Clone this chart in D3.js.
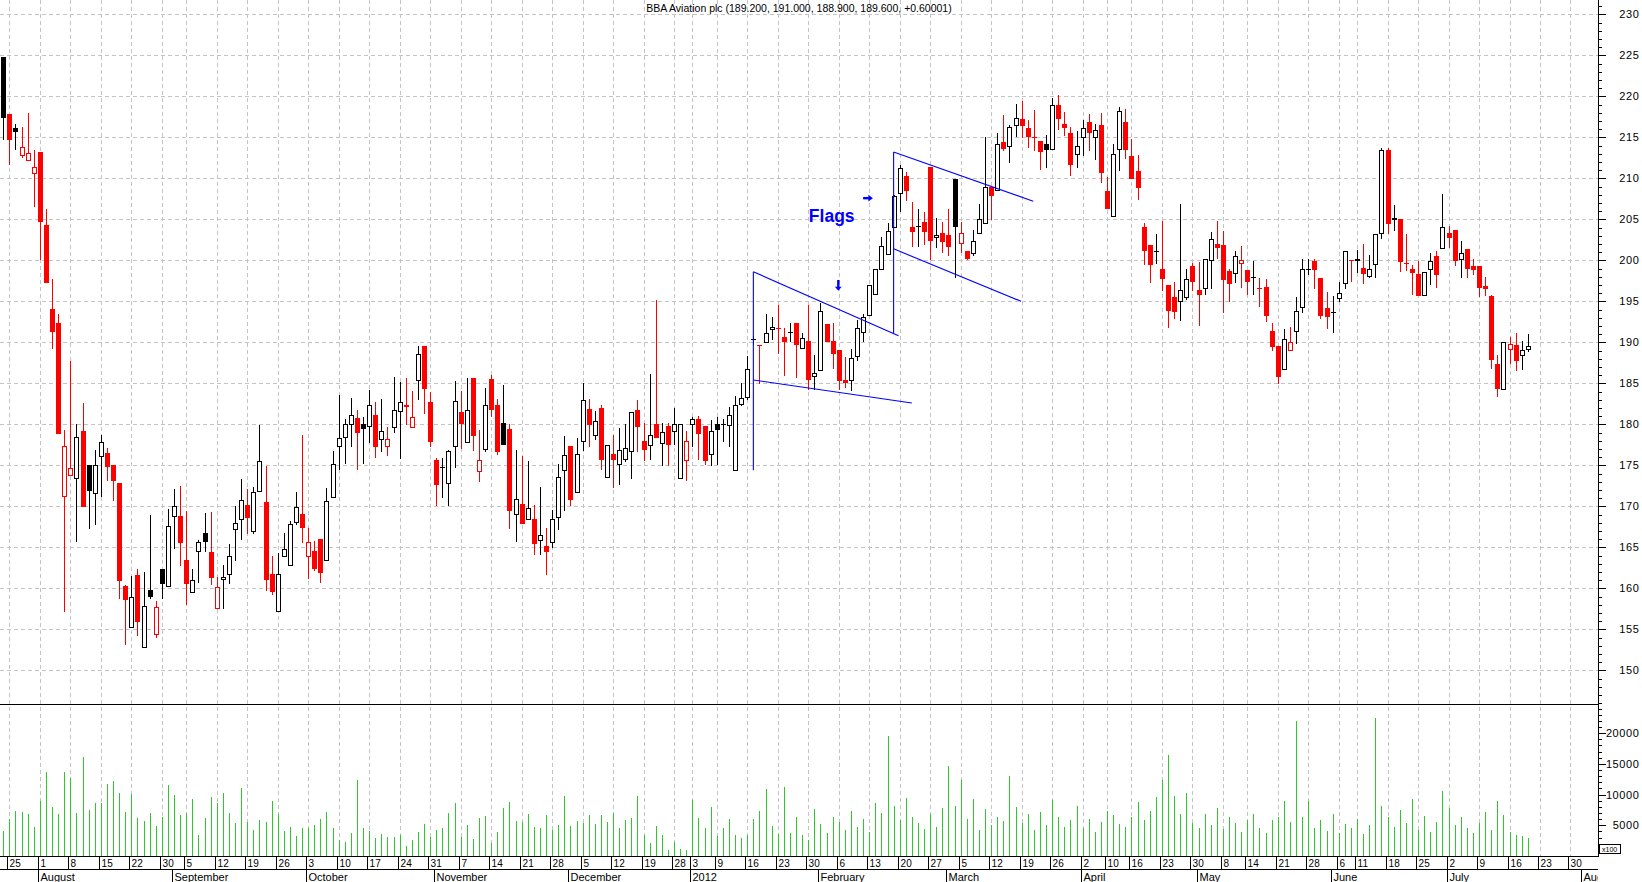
<!DOCTYPE html>
<html><head><meta charset="utf-8">
<script src="https://cdn.jsdelivr.net/npm/d3@7"></script>
<style>
html,body{margin:0;padding:0;background:#fff;overflow:hidden;}
svg{display:block;font-family:"Liberation Sans",Arial,sans-serif;}
</style></head><body>
<svg id="c" width="1642" height="882"></svg>
<script>
const title = "BBA Aviation plc (189.200, 191.000, 188.900, 189.600, +0.60001)";

const opens = [
224.8,217.8,216.1,212.9,212.2,210.6,213.2,204.3,194.0,192.3,
171.3,173.8,173.5,179.2,175.0,171.6,176.1,176.5,175.0,172.9,
160.3,155.3,161.6,152.8,159.8,154.4,162.3,160.3,168.8,168.8,
163.4,159.6,164.6,166.8,164.4,157.6,161.1,161.8,167.2,168.5,
170.1,167.0,171.9,170.5,161.7,157.2,163.9,162.9,168.1,169.1,
164.0,164.5,166.0,163.4,171.1,177.3,178.4,180.0,180.8,180.0,
179.8,181.1,178.2,177.3,179.7,181.6,182.4,179.7,185.4,189.5,
182.7,175.6,174.8,172.9,177.3,181.5,177.8,185.6,174.3,177.0,
185.5,182.4,180.1,179.4,169.0,170.3,168.4,168.5,165.9,165.2,
165.6,168.7,174.4,177.3,171.7,178.0,181.9,178.7,182.0,173.6,
176.4,175.2,175.8,176.8,181.7,178.0,177.5,180.0,177.7,179.8,
179.2,173.4,175.7,180.0,180.6,179.8,176.4,180.0,180.0,179.9,
174.4,182.5,183.3,190.4,189.7,190.0,191.6,191.7,190.7,191.2,
192.3,189.3,190.2,185.9,186.6,192.2,190.2,189.0,185.4,185.4,
188.3,191.2,193.3,195.9,199.0,200.8,204.1,208.2,210.3,204.0,
204.2,204.7,211.4,202.8,203.3,203.1,209.9,202.1,201.1,200.9,
203.3,204.6,208.9,208.6,214.4,213.9,216.5,217.2,216.1,215.0,
214.5,214.2,213.6,218.9,216.6,215.5,213.0,215.0,216.9,215.0,
216.5,208.4,205.4,213.6,216.9,212.7,210.9,204.1,201.9,201.1,
199.0,197.0,195.5,195.0,195.5,199.3,196.4,196.6,200.0,202.0,
201.9,198.7,198.5,199.7,198.8,197.8,196.6,196.8,191.4,189.5,
186.8,189.1,191.4,194.3,199.0,199.9,197.9,194.2,193.7,195.4,
197.2,200.0,200.2,199.1,198.1,199.5,203.3,213.5,205.2,205.0,
199.7,198.9,198.3,195.8,198.9,200.5,201.5,203.3,203.7,200.2,
201.4,199.3,199.3,196.9,195.6,187.3,184.3,189.2,189.7,188.4,
189.2];

const highs = [
224.8,217.8,216.6,216.3,218.0,213.5,213.2,206.3,197.7,193.5,
179.3,187.7,180.0,182.6,175.0,176.9,178.7,177.1,175.0,172.9,
160.4,161.5,162.4,162.0,168.9,158.4,162.3,169.7,172.1,172.5,
169.4,162.4,165.9,169.2,169.3,161.4,162.9,165.4,170.0,173.3,
172.1,172.4,179.9,174.9,163.9,164.3,166.8,168.2,171.8,178.7,
167.4,165.8,166.0,172.2,176.7,183.6,180.7,183.2,181.7,180.9,
184.2,182.7,183.1,179.7,185.8,185.1,185.6,184.0,189.6,189.5,
183.9,175.9,175.9,176.9,185.3,184.0,185.6,185.6,179.3,184.4,
186.0,183.1,184.8,180.0,176.9,176.1,175.5,170.2,172.4,167.4,
169.5,175.1,178.6,177.3,178.3,185.0,183.1,181.6,182.4,177.5,
178.7,179.6,180.0,181.5,183.0,180.2,186.1,195.2,180.2,180.2,
182.0,180.0,179.2,180.9,181.0,179.8,180.5,180.9,180.7,182.1,
183.4,185.0,188.3,190.8,189.7,193.4,193.1,194.5,191.7,192.4,
192.4,191.1,194.5,188.4,194.8,192.2,192.4,189.0,188.2,189.2,
192.7,193.5,197.0,199.0,202.9,204.5,208.0,211.6,210.8,207.1,
206.3,205.9,211.4,205.2,204.7,206.3,209.9,204.7,201.1,203.7,
206.9,215.0,208.9,215.5,217.7,216.5,219.1,219.4,217.1,218.3,
214.5,215.3,219.8,220.2,218.1,216.3,215.8,217.1,217.8,216.6,
218.0,210.2,214.2,218.7,218.5,214.8,212.8,204.6,201.9,203.2,
204.8,197.0,197.3,206.9,199.0,199.7,199.8,200.1,203.4,204.8,
203.6,198.9,201.1,201.7,198.8,199.9,197.8,197.7,192.4,189.5,
191.6,191.9,195.5,200.2,200.2,200.2,197.9,196.1,195.6,197.4,
201.1,200.0,201.2,202.0,200.6,203.2,213.7,213.7,206.8,205.0,
203.2,199.4,199.9,198.6,200.9,201.1,208.1,204.2,203.7,202.3,
201.4,200.1,199.3,198.0,195.8,188.4,190.0,190.6,191.1,190.2,
191.0];

const lows = [
214.8,211.8,213.6,212.6,212.2,206.6,200.1,197.3,189.3,178.9,
157.2,173.8,165.8,170.0,167.4,167.8,171.3,173.2,170.8,158.8,
153.2,155.3,154.3,152.8,158.8,154.1,158.8,160.3,164.9,162.9,
158.1,159.6,160.8,164.5,160.5,157.6,157.6,160.6,163.4,166.0,
166.7,166.7,171.9,159.8,159.3,157.2,163.9,162.9,167.9,165.7,
161.2,162.2,160.8,163.4,171.1,174.5,175.3,177.3,174.5,175.3,
177.8,176.0,176.7,176.3,179.1,175.9,180.0,179.7,183.1,181.4,
177.3,170.1,171.1,170.2,174.8,177.1,177.8,176.9,173.1,176.7,
181.0,176.4,177.6,167.4,165.8,168.0,168.4,164.2,164.2,161.7,
165.0,167.2,169.5,170.1,171.7,176.9,177.3,178.2,174.5,173.6,
172.4,172.7,175.5,173.5,176.8,175.7,175.8,178.4,175.0,175.0,
177.6,173.4,173.2,177.4,175.8,175.1,175.0,175.2,178.0,177.3,
174.4,182.4,183.1,189.8,185.0,190.0,190.4,188.7,186.0,190.1,
185.8,189.3,184.3,184.3,186.6,190.1,186.9,184.3,184.5,184.2,
187.8,190.2,193.3,195.9,199.0,200.8,204.1,206.0,207.4,201.7,
201.8,202.0,200.1,201.6,201.0,200.6,198.0,201.0,200.2,200.6,
203.3,204.6,205.0,208.6,213.5,212.0,215.1,215.0,213.8,213.4,
211.1,211.4,213.6,216.0,215.3,210.4,211.4,212.8,213.4,212.4,
209.5,206.4,205.4,211.0,212.5,210.0,207.5,199.5,197.3,199.7,
196.4,191.9,193.0,192.7,195.3,196.4,192.1,195.9,196.6,200.3,
193.7,195.0,197.4,196.8,195.9,195.9,194.4,192.6,189.0,185.0,
186.8,189.1,189.9,193.7,198.3,196.6,193.0,191.8,191.2,195.0,
196.6,197.5,198.6,197.2,198.0,198.0,202.7,203.3,203.7,198.7,
198.8,195.9,195.8,195.8,197.1,196.8,201.5,201.6,199.4,198.0,
198.0,198.3,195.7,195.8,186.9,183.5,184.3,187.5,186.6,186.8,
188.9];

const closes = [
217.5,214.8,215.8,213.8,213.1,211.4,204.8,197.4,191.4,178.9,
177.4,174.7,178.4,170.0,172.0,175.0,177.8,174.9,173.2,161.0,
158.7,158.9,156.0,157.8,159.0,157.7,160.7,167.6,170.0,165.7,
160.6,161.0,165.7,165.8,161.4,160.1,161.4,164.0,168.0,170.8,
168.7,171.8,175.5,161.1,159.7,161.8,164.8,167.8,169.9,167.5,
165.6,162.5,162.0,170.6,175.2,178.3,180.0,181.1,179.1,179.6,
182.4,177.3,179.2,178.2,181.8,182.7,182.2,180.9,188.6,184.4,
178.0,172.7,174.8,176.7,182.9,180.1,181.7,178.7,175.6,182.4,
181.9,176.7,177.6,169.5,170.9,168.0,169.8,165.5,166.5,164.6,
168.4,173.6,176.3,170.9,176.4,183.0,180.0,180.4,175.8,177.5,
175.8,176.9,177.1,181.5,179.8,177.0,178.7,178.4,179.1,177.6,
180.0,180.0,178.0,180.7,178.9,175.6,179.2,179.4,180.0,181.1,
182.3,183.2,186.8,190.4,189.7,191.1,191.9,191.7,190.1,191.2,
189.8,190.5,185.5,186.3,193.8,190.1,188.7,185.4,185.1,188.1,
191.7,193.1,197.0,198.9,201.7,203.6,207.8,211.2,208.6,203.6,
204.2,203.6,202.5,203.1,202.3,201.7,204.2,203.3,200.3,202.4,
205.0,208.9,208.0,214.2,213.7,216.2,217.3,216.5,215.1,215.0,
213.3,213.6,218.9,217.4,216.3,211.7,213.9,216.1,215.7,215.9,
210.8,206.4,213.0,218.2,213.6,210.0,208.9,201.3,199.6,201.1,
197.9,193.9,193.8,196.4,197.7,197.5,195.9,200.1,202.6,201.6,
197.7,197.2,200.5,200.0,197.5,198.0,196.6,193.3,189.6,185.9,
190.4,190.0,193.8,198.9,199.0,198.9,193.3,193.2,193.7,196.0,
201.1,200.0,200.0,198.4,198.9,203.2,213.5,204.5,205.0,199.9,
199.7,198.6,195.8,198.6,199.9,198.3,204.0,202.9,200.0,200.9,
199.1,198.9,196.7,196.6,188.0,184.4,190.0,189.8,187.9,189.0,
189.6];

const volumes = [
4000,6070,7400,7100,6900,4660,8940,13650,7900,6780,
13650,12680,6940,16200,7430,8560,8560,11650,12140,10190,
7100,10030,6120,5640,6940,4820,6290,11490,9860,6610,
7050,9210,3360,6120,9540,8560,10190,6940,5310,11000,
5470,4170,5800,5470,8890,6780,4010,4660,3200,4500,
4500,4990,5960,7100,4500,2550,2220,3690,12300,4500,
4120,2870,3520,3040,3040,3360,1570,2550,3850,5150,
3040,4170,4500,6940,8560,3040,4990,2710,6120,6450,
2110,3850,7750,8730,5640,5470,6780,4660,4500,6610,
4170,4990,9700,4820,5640,5310,6610,5150,6610,5470,
7050,4500,5800,6120,9700,3360,2060,4820,3360,920,
2220,1080,920,9050,6120,4500,7910,3200,4500,5960,
3360,2870,3360,5960,7260,10840,4820,3520,11170,3690,
6290,3360,2550,7590,
5200,3800,6400,5600,4300,7400,4800,6100,3900,8600,
7000,19500,8200,5800,9500,6400,5300,4400,6900,4800,
7800,14600,8200,12300,6100,9300,4200,7600,5100,6300,
5700,13000,7900,5400,6800,4300,7200,5000,9100,6300,
4700,5800,8200,4600,6000,3900,5500,7400,6700,5200,
4800,6300,8800,5900,7300,9600,12400,16500,9800,6800,
10200,5400,4600,6800,5100,7800,4400,6300,5400,3900,
5900,6800,4500,3700,5800,6300,8900,5600,22000,6400,
8900,4600,5900,4000,6900,3800,5200,4500,6000,3600,
5100,22500,8200,6300,4800,7500,5300,9300,4200,6500,
3900,5600,10600,7800,5100,6400,4600,3800,5400,7100,
4200,9000,6600,3900,3400,3300,2900];

// weekly date ticks: [trading-day index, label]
const dayTicks = [[1,"25"],[6,"1"],[11,"8"],[16,"15"],[21,"22"],[26,"30"],[30,"5"],[35,"12"],[40,"19"],[45,"26"],
[50,"3"],[55,"10"],[60,"17"],[65,"24"],[70,"31"],[75,"7"],[80,"14"],[85,"21"],[90,"28"],[95,"5"],[100,"12"],
[105,"19"],[110,"28"],[113,"3"],[117,"9"],[122,"16"],[127,"23"],[132,"30"],[137,"6"],[142,"13"],[147,"20"],
[152,"27"],[157,"5"],[162,"12"],[167,"19"],[172,"26"],[177,"2"],[181,"10"],[185,"16"],[190,"23"],[195,"30"],
[200,"8"],[204,"14"],[209,"21"],[214,"28"],[219,"6"],[222,"11"],[227,"18"],[232,"25"],[237,"2"],[242,"9"],
[247,"16"],[252,"23"],[257,"30"]];
const monthTicks = [[6,"August"],[28,"September"],[50,"October"],[71,"November"],[93,"December"],[113,"2012"],
[134,"February"],[155,"March"],[177,"April"],[196,"May"],[218,"June"],[237,"July"],[259,"August"]];

const priceTicks = [150,155,160,165,170,175,180,185,190,195,200,205,210,215,220,225,230];
const volumeTicks = [5000,10000,15000,20000];

// flag annotations: [index1, price1, index2, price2]
const flagLines = [
  [123.0,198.6,123.0,174.4],[123.0,198.6,146.8,190.8],[123.0,185.4,149.0,182.6],
  [146.0,213.2,146.0,191.1],[146.0,213.2,168.9,207.2],[146.0,201.4,166.9,195.0]
];
const downArrow = [136.9,197.6,196.3];   // index, price top, price tip
const rightArrow = [207.6,141.0,142.6];  // price, index start, index tip
const flagLabel = ["Flags",132.1,204.7];

// ---------- layout ----------
const svg = d3.select("#c");
const PR = 1598, P_BOT = 704, V_BOT = 856, ROW = 869, H = 882;

const x = d3.scaleLinear().domain([0,250]).range([3.3,1527.8]);
const y = d3.scaleLinear().domain([150,230]).range([670.3,14.3]);
const yv = d3.scaleLinear().domain([0,20000]).range([V_BOT,733.2]);
const px = i => Math.round(x(i));

svg.append("defs").append("clipPath").attr("id","plot")
  .append("rect").attr("x",0).attr("y",0).attr("width",PR).attr("height",H);

// gridlines
const grid = svg.append("g").attr("stroke","#c4c4c4").attr("stroke-dasharray","4,3")
  .attr("shape-rendering","crispEdges");
grid.selectAll(".hg").data(priceTicks).join("line")
  .attr("x1",0).attr("x2",PR)
  .attr("y1",d=>Math.round(y(d))+0.5).attr("y2",d=>Math.round(y(d))+0.5);
grid.selectAll(".vg").data(dayTicks).join("line")
  .attr("x1",d=>px(d[0])+0.5).attr("x2",d=>px(d[0])+0.5)
  .attr("y1",0).attr("y2",V_BOT);

// panel frame lines
const frame = svg.append("g").attr("stroke","#000").attr("shape-rendering","crispEdges");
frame.append("line").attr("x1",0).attr("x2",PR).attr("y1",P_BOT+0.5).attr("y2",P_BOT+0.5);
frame.append("line").attr("x1",0).attr("x2",PR).attr("y1",V_BOT+0.5).attr("y2",V_BOT+0.5);
frame.append("line").attr("x1",0).attr("x2",PR).attr("y1",ROW+0.5).attr("y2",ROW+0.5);
frame.append("line").attr("x1",PR+0.5).attr("x2",PR+0.5).attr("y1",0).attr("y2",V_BOT+1);

// volume bars
const idx = d3.range(closes.length);
svg.append("g").attr("stroke","#2ec82e").attr("shape-rendering","crispEdges")
  .selectAll("line").data(idx).join("line")
  .attr("x1",i=>px(i)+0.5).attr("x2",i=>px(i)+0.5)
  .attr("y1",yv(0)).attr("y2",i=>yv(volumes[i]));

// candles
const cg = svg.append("g").attr("shape-rendering","crispEdges");
idx.forEach(i=>{
  const o=opens[i], h=highs[i], l=lows[i], c=closes[i];
  const col = (i===0 || c>=closes[i-1]) ? "#000000" : "#ff0000";
  const cx = px(i);
  cg.append("line").attr("x1",cx+0.5).attr("x2",cx+0.5)
    .attr("y1",Math.round(y(h))).attr("y2",Math.round(y(l))+1).attr("stroke",col);
  const top = Math.round(y(Math.max(o,c))), bot = Math.round(y(Math.min(o,c)));
  if (c < o) {
    cg.append("rect").attr("x",cx-2).attr("y",top).attr("width",5)
      .attr("height",Math.max(1,bot-top+1)).attr("fill",col);
  } else if (bot-top < 2) {
    cg.append("line").attr("x1",cx-2).attr("x2",cx+3)
      .attr("y1",top+0.5).attr("y2",top+0.5).attr("stroke",col);
  } else {
    cg.append("rect").attr("x",cx-1.5).attr("y",top+0.5).attr("width",4)
      .attr("height",bot-top).attr("fill","#fff").attr("stroke",col);
  }
});

// flag annotations
const ag = svg.append("g");
ag.selectAll("line").data(flagLines).join("line")
  .attr("x1",d=>x(d[0])).attr("y1",d=>y(d[1])).attr("x2",d=>x(d[2])).attr("y2",d=>y(d[3]))
  .attr("stroke","#0000ff").attr("stroke-width",1.1);
{
  const ax = x(downArrow[0]), y1 = y(downArrow[1]), y2 = y(downArrow[2]);
  ag.append("rect").attr("x",ax-1).attr("y",y1).attr("width",2.4).attr("height",y2-y1-3.5).attr("fill","#0000ff");
  ag.append("path").attr("d",`M${ax-3.3},${y2-4}L${ax+3.5},${y2-4}L${ax+0.2},${y2}Z`).attr("fill","#0000ff");
  const ry = y(rightArrow[0]), x1 = x(rightArrow[1]), x2 = x(rightArrow[2]);
  ag.append("rect").attr("x",x1).attr("y",ry-1).attr("width",x2-x1-4).attr("height",2.4).attr("fill","#0000ff");
  ag.append("path").attr("d",`M${x2-4.5},${ry-3.3}L${x2-4.5},${ry+3.5}L${x2},${ry+0.2}Z`).attr("fill","#0000ff");
  ag.append("text").attr("x",x(flagLabel[1])).attr("y",y(flagLabel[2]))
    .attr("fill","#0000ff").attr("font-size",17.5).attr("font-weight","bold").text(flagLabel[0]);
}

// price axis (right)
const minorP = d3.range(146,232);
const pax = svg.append("g").attr("transform",`translate(${PR+0.5},0)`).attr("shape-rendering","crispEdges");
pax.call(d3.axisRight(y).tickValues(minorP).tickSize(3).tickFormat(""));
pax.call(g=>g.select(".domain").remove());
const pax2 = svg.append("g").attr("transform",`translate(${PR+0.5},0)`).attr("shape-rendering","crispEdges");
pax2.call(d3.axisRight(y).tickValues(priceTicks).tickSize(7).tickFormat(d3.format("d")));
pax2.call(g=>g.select(".domain").remove());
pax2.selectAll("text").attr("x",41).attr("text-anchor","end").attr("font-size",11)
  .attr("font-family","'Liberation Sans',Arial,sans-serif").attr("letter-spacing",0.6).attr("fill","#000");

// volume axis
const minorV = d3.range(1000,25000,1000);
const vax = svg.append("g").attr("transform",`translate(${PR+0.5},0)`).attr("shape-rendering","crispEdges");
vax.call(d3.axisRight(yv).tickValues(minorV).tickSize(3).tickFormat(""));
vax.call(g=>g.select(".domain").remove());
const vax2 = svg.append("g").attr("transform",`translate(${PR+0.5},0)`).attr("shape-rendering","crispEdges");
vax2.call(d3.axisRight(yv).tickValues(volumeTicks).tickSize(7).tickFormat(d3.format("d")));
vax2.call(g=>g.select(".domain").remove());
vax2.selectAll("text").attr("x",41).attr("text-anchor","end").attr("font-size",11)
  .attr("font-family","'Liberation Sans',Arial,sans-serif").attr("letter-spacing",0.6).attr("fill","#000");
svg.selectAll(".tick line").attr("stroke","#000");

// x100 box
svg.append("rect").attr("x",PR+1.5).attr("y",844.5).attr("width",21).attr("height",9)
  .attr("fill","#fff").attr("stroke","#000").attr("shape-rendering","crispEdges");
svg.append("text").attr("x",PR+4).attr("y",852).attr("font-size",7).text("x100");

// date axis
const dg = svg.append("g").attr("clip-path","url(#plot)");
dg.selectAll(".dt").data(dayTicks).join("line")
  .attr("x1",d=>px(d[0])-1.5).attr("x2",d=>px(d[0])-1.5)
  .attr("y1",V_BOT).attr("y2",ROW).attr("stroke","#000").attr("shape-rendering","crispEdges");
dg.selectAll(".dl").data(dayTicks).join("text")
  .attr("x",d=>px(d[0])+0.5).attr("y",V_BOT+11).attr("font-size",10).attr("letter-spacing",0.3)
  .text(d=>d[1]);
dg.selectAll(".mt").data(monthTicks).join("line")
  .attr("x1",d=>px(d[0])-1.5).attr("x2",d=>px(d[0])-1.5)
  .attr("y1",ROW).attr("y2",H).attr("stroke","#000").attr("shape-rendering","crispEdges");
dg.selectAll(".ml").data(monthTicks).join("text")
  .attr("x",d=>px(d[0])+0.5).attr("y",H-1.5).attr("font-size",11)
  .text(d=>d[1]);

// title
svg.append("text").attr("x",PR/2).attr("y",12).attr("text-anchor","middle")
  .attr("font-size",10.5).text(title);
</script>
</body></html>
